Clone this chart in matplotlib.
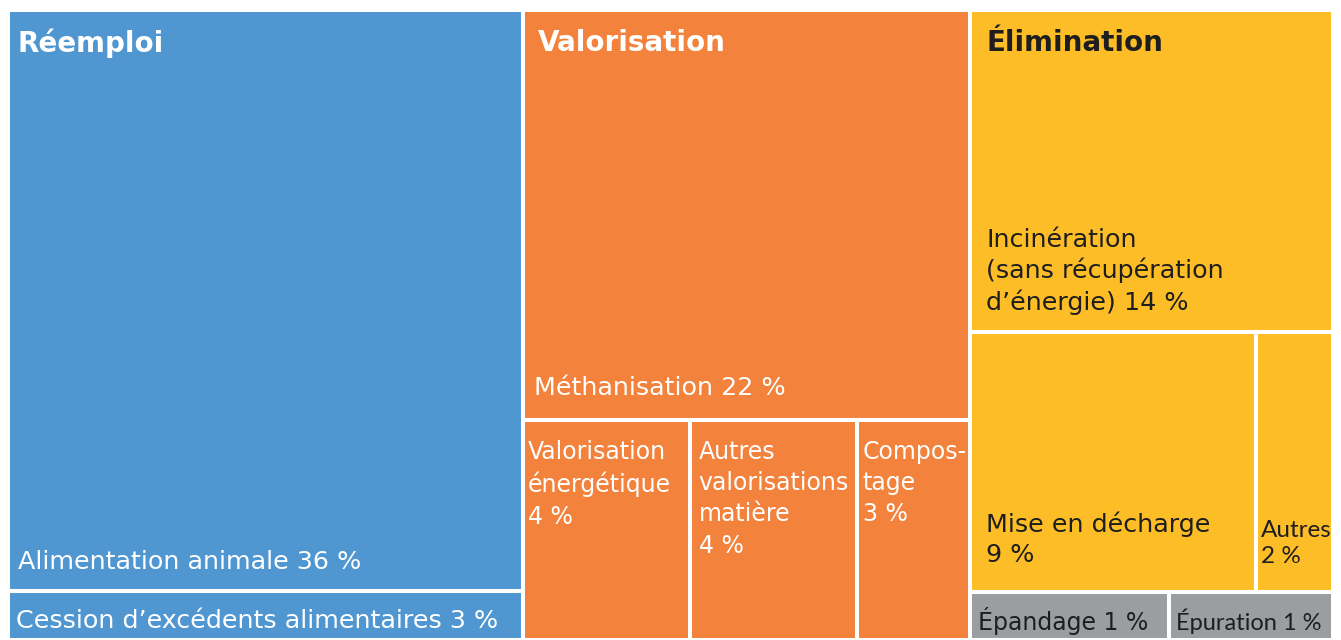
import matplotlib.pyplot as plt
from matplotlib.patches import Rectangle

plt.rcParams['font.family'] = ['DejaVu Sans']

# groupes et postes (parts en %)
groups = ['Réemploi', 'Valorisation', 'Élimination']
group_colors = ['#5097D1', '#F2823C', '#FDBD27']
group_text = ['white', 'white', '#1E1E1E']

labels = [
    'Alimentation animale 36 %',
    'Cession d\u2019excédents alimentaires 3 %',
    'Méthanisation 22 %',
    'Valorisation\nénergétique\n4 %',
    'Autres\nvalorisations\nmatière\n4 %',
    'Compos-\ntage\n3 %',
    'Incinération\n(sans récupération\nd\u2019énergie) 14 %',
    'Mise en décharge\n9 %',
    'Autres\n2 %',
    'Épandage 1 %',
    'Épuration 1 %',
]
values = [35.9, 3.0, 22.0, 4.4, 4.4, 3.0, 14.0, 8.9, 2.4, 1.15, 0.95]
item_group = [0, 0, 1, 1, 1, 1, 2, 2, 2, 2, 2]
item_row = [0, 1, 0, 1, 1, 1, 0, 1, 1, 2, 2]
item_anchor = ['bottom', 'center', 'bottom', 'top', 'top', 'top',
               'bottom', 'bottom', 'bottom', 'center', 'center']
gray_items = [9, 10]
gray = '#9B9EA0'

# marges du texte (px)
pad_left = [10, 8, 11, 5, 9, 6, 16, 16, 5, 8, 7]
pad_bottom = [22, 0, 25, 0, 0, 0, 22, 30, 29, 0, 0]
label_size = [18.3, 18.3, 18.3, 17, 17, 17, 18.3, 18.3, 17.5, 17, 17]
# petites cases : police plus étroite
narrow = [8, 10]
title_pad = [10, 15, 16]

W, H = 1325, 630  # zone du treemap en pixels
fig = plt.figure(figsize=(13.41, 6.4), dpi=100)
ax = fig.add_axes([8 / 1341, 0, W / 1341, H / 640])
ax.set_xlim(0, W)
ax.set_ylim(H, 0)
ax.axis('off')

total = sum(values)
x = 0
for g, gname in enumerate(groups):
    idx = [i for i in range(len(values)) if item_group[i] == g]
    gtot = sum(values[i] for i in idx)
    gw = W * gtot / total
    y = 0
    for r in sorted(set(item_row[i] for i in idx)):
        ridx = [i for i in idx if item_row[i] == r]
        rtot = sum(values[i] for i in ridx)
        rh = H * rtot / gtot
        xx = x
        for i in ridx:
            w = gw * values[i] / rtot
            col = gray if i in gray_items else group_colors[g]
            tcol = '#1E1E1E' if i in gray_items else group_text[g]
            fam = ['Lato', 'DejaVu Sans'] if i in narrow else ['DejaVu Sans']
            ax.add_patch(Rectangle((xx, y), w, rh, facecolor=col,
                                   edgecolor='white', linewidth=2.9))
            if item_anchor[i] == 'bottom':
                ax.text(xx + pad_left[i], y + rh - pad_bottom[i], labels[i],
                        color=tcol, fontsize=label_size[i], va='baseline',
                        ha='left', linespacing=1.3, family=fam)
            elif item_anchor[i] == 'top':
                ax.text(xx + pad_left[i], y + 20, labels[i], color=tcol,
                        fontsize=label_size[i], va='top', ha='left',
                        linespacing=1.38, family=fam)
            else:
                ax.text(xx + pad_left[i], y + rh / 2 + 5, labels[i],
                        color=tcol, fontsize=label_size[i], va='center',
                        ha='left', family=fam)
            xx += w
        y += rh
    ax.text(x + title_pad[g], 33, gname, color=group_text[g], fontsize=20,
            fontweight='bold', va='center', ha='left')
    x += gw

fig.savefig('out.png', dpi=100)
